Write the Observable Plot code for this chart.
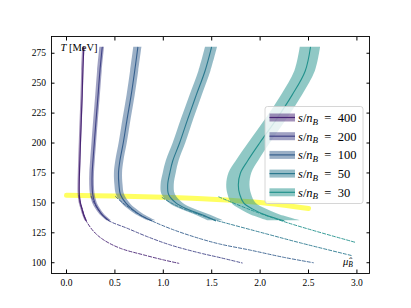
<!DOCTYPE html>
<html><head><meta charset="utf-8">
<script src="https://cdn.jsdelivr.net/npm/d3@7"></script>
<script src="https://cdn.jsdelivr.net/npm/@observablehq/plot@0.6"></script>
<style>body{margin:0;background:#fff}</style>
</head><body><div id="chart"></div>
<script>
// ---- data ----
const entropyRatios = [400, 200, 100, 50, 30];
const colors = ["#482475", "#414487", "#355f8d", "#2a788e", "#21918c"];
const xTicks = [0, 0.5, 1, 1.5, 2, 2.5, 3];
const yTicks = [100, 125, 150, 175, 200, 225, 250, 275];

// solid curves (with bands): common temperature grid
const tSolid   = [280, 260, 240, 220, 200, 185, 175, 165, 157, 150, 145, 140, 135];
const mu400    = [0.179, 0.169, 0.162, 0.153, 0.144, 0.138, 0.134, 0.131, 0.132, 0.143, 0.160, 0.178, 0.203];
const mu200    = [0.369, 0.345, 0.326, 0.306, 0.287, 0.273, 0.265, 0.264, 0.271, 0.293, 0.325, 0.370, 0.440];
const mu100    = [0.737, 0.704, 0.668, 0.626, 0.586, 0.551, 0.537, 0.542, 0.557, 0.612, 0.675, 0.760, 0.880];
const mu50     = [1.498, 1.430, 1.340, 1.252, 1.168, 1.097, 1.067, 1.045, 1.055, 1.130, 1.240, 1.400, 1.540];
const mu30     = [2.520, 2.465, 2.330, 2.170, 1.995, 1.870, 1.797, 1.775, 1.790, 1.830, 1.920, 2.050, 2.245];
const band400  = [0.012, 0.012, 0.012, 0.012, 0.012, 0.012, 0.012, 0.012, 0.012, 0.012, 0.012, 0.012, 0.012];
const band200  = [0.024, 0.024, 0.024, 0.024, 0.024, 0.024, 0.024, 0.024, 0.024, 0.024, 0.024, 0.024, 0.024];
const band100  = [0.042, 0.042, 0.042, 0.042, 0.042, 0.042, 0.042, 0.042, 0.042, 0.042, 0.042, 0.042, 0.042];
const band50   = [0.062, 0.062, 0.063, 0.064, 0.065, 0.066, 0.067, 0.068, 0.069, 0.070, 0.072, 0.075, 0.080];
const band30   = [0.105, 0.106, 0.108, 0.110, 0.112, 0.115, 0.118, 0.120, 0.122, 0.125, 0.135, 0.150, 0.170];

// dashed continuations
const dash400Mu = [0.128, 0.142, 0.160, 0.178, 0.203, 0.282, 0.385, 0.558, 0.799, 1.005, 1.160];
const dash400T  = [156, 150, 145, 140, 135, 126, 119, 112, 106.5, 102.3, 99.5];
const dash200Mu = [0.255, 0.285, 0.322, 0.370, 0.440, 0.627, 0.834, 1.074, 1.384, 1.590, 1.815];
const dash200T  = [155.5, 150, 145, 140, 135, 128.8, 121.8, 114.8, 108, 104.2, 99.8];
const dash100Mu = [0.506, 0.580, 0.665, 0.755, 0.880, 1.108, 1.384, 1.590, 1.900, 2.245, 2.550];
const dash100T  = [155.4, 150, 145, 140, 135, 127.4, 120, 115.5, 110.5, 104.5, 100];
const dash50Mu  = [0.988, 1.080, 1.210, 1.380, 1.520, 1.590, 2.070, 2.420, 2.950];
const dash50T   = [154.5, 150, 145, 140, 136, 134.4, 124, 116.5, 105.9];
const dash30Mu  = [1.573, 1.900, 2.245, 2.590, 2.985];
const dash30T   = [155, 144.2, 134.4, 126, 117];

// yellow freeze-out line
const yellowMu = [0, 0.5, 1.0, 1.5, 2.0, 2.5];
const yellowT  = [156.4, 155.7, 154.7, 153.1, 150.3, 145.3];

// ---- build tables ----
const solidMu = [mu400, mu200, mu100, mu50, mu30];
const bandW = [band400, band200, band100, band50, band30];
const dashMu = [dash400Mu, dash200Mu, dash100Mu, dash50Mu, dash30Mu];
const dashT = [dash400T, dash200T, dash100T, dash50T, dash30T];

const solidRows = entropyRatios.map((s, i) => tSolid.map((T, j) => ({
  s, T, mu: solidMu[i][j], lo: solidMu[i][j] - bandW[i][j], hi: solidMu[i][j] + bandW[i][j]
})));
const dashRows = entropyRatios.map((s, i) => dashT[i].map((T, j) => ({s, T, mu: dashMu[i][j]})));
const yellowRows = yellowMu.map((mu, j) => ({mu, T: yellowT[j]}));

const serif = "Liberation Serif";

const plot = Plot.plot({
  width: 411, height: 308,
  marginLeft: 51, marginRight: 42, marginTop: 36, marginBottom: 35,
  x: {domain: [-0.155, 3.13], label: null},
  y: {domain: [91, 289], label: null},
  style: {fontFamily: serif, fontSize: "9.5px", color: "#000", background: "#fff"},
  marks: [
    Plot.line(yellowRows, {x: "mu", y: "T", stroke: "#ffff00", strokeOpacity: 0.62, strokeWidth: 5, curve: "catmull-rom"}),
    ...entropyRatios.map((s, i) => Plot.areaX(solidRows[i], {y: "T", x1: "lo", x2: "hi", fill: colors[i], fillOpacity: 0.5, curve: "catmull-rom"})),
    ...entropyRatios.map((s, i) => Plot.line(solidRows[i], {x: "mu", y: "T", stroke: colors[i], strokeWidth: 1.1, curve: "catmull-rom"})),
    ...entropyRatios.map((s, i) => Plot.line(dashRows[i], {x: "mu", y: "T", stroke: colors[i], strokeWidth: 0.9, strokeDasharray: "3.2,1.8", curve: "catmull-rom"})),
    Plot.axisX(xTicks, {anchor: "bottom", tickSize: -3.5, tickPadding: 9, tickFormat: d3.format(".1f"), stroke: "#000"}),
    Plot.axisX(xTicks, {anchor: "top", tickSize: -3.5, tickFormat: () => "", stroke: "#000"}),
    Plot.axisY(yTicks, {anchor: "left", tickSize: -3.5, tickPadding: 9, stroke: "#000"}),
    Plot.axisY(yTicks, {anchor: "right", tickSize: -3.5, tickFormat: () => "", stroke: "#000"}),
    Plot.frame({stroke: "#000", strokeWidth: 0.9})
  ]
});

// ---- annotations and legend ----
const svg = d3.select(plot);
const W = 411, mL = 51, mT = 36, mR = 42, mB = 35;
const iw = W - mL - mR, ih = 308 - mT - mB;

// T [MeV]
const tl = svg.append("text").attr("x", mL + 9.5).attr("y", mT + 15)
  .attr("text-anchor", "start").attr("font-family", serif).attr("font-size", 10.5).attr("fill", "#000");
tl.append("tspan").attr("font-style", "italic").text("T");
tl.append("tspan").text(" [MeV]");

// mu_B hat
const ml = svg.append("text").attr("x", mL + iw - 26).attr("y", mT + ih - 8.5)
  .attr("text-anchor", "start").attr("font-family", serif).attr("font-size", 10.5).attr("fill", "#000");
ml.append("tspan").attr("font-style", "italic").text("\u03bc\u0302");
ml.append("tspan").attr("font-style", "italic").attr("font-size", 7.5).attr("dy", 2.5).text("B");

// legend
const lg = svg.append("g").attr("font-family", serif).attr("text-anchor", "start");
const lx = mL + iw - 104, ly = mT + 70.5;
lg.append("rect").attr("x", lx).attr("y", ly).attr("width", 98).attr("height", 97).attr("rx", 2.5)
  .attr("fill", "#fff").attr("fill-opacity", 0.8).attr("stroke", "#cccccc").attr("stroke-width", 0.8);
entropyRatios.forEach((s, i) => {
  const cy = ly + 11 + i * 18.7;
  lg.append("rect").attr("x", lx + 4.5).attr("y", cy - 4).attr("width", 25.5).attr("height", 8)
    .attr("fill", colors[i]).attr("fill-opacity", 0.5);
  lg.append("line").attr("x1", lx + 4.5).attr("x2", lx + 30).attr("y1", cy).attr("y2", cy)
    .attr("stroke", colors[i]).attr("stroke-width", 1.2);
  const t = lg.append("text").attr("x", lx + 33).attr("y", cy + 4.3).attr("font-size", 12.5).attr("fill", "#000");
  t.append("tspan").attr("font-style", "italic").text("s");
  t.append("tspan").text("/");
  t.append("tspan").attr("font-style", "italic").text("n");
  t.append("tspan").attr("font-style", "italic").attr("font-size", 9).attr("dy", 2.8).text("B");
  t.append("tspan").attr("dy", -2.8).text("\u2002=\u2002" + s);
});

document.getElementById("chart").appendChild(plot);
</script>
</body></html>
